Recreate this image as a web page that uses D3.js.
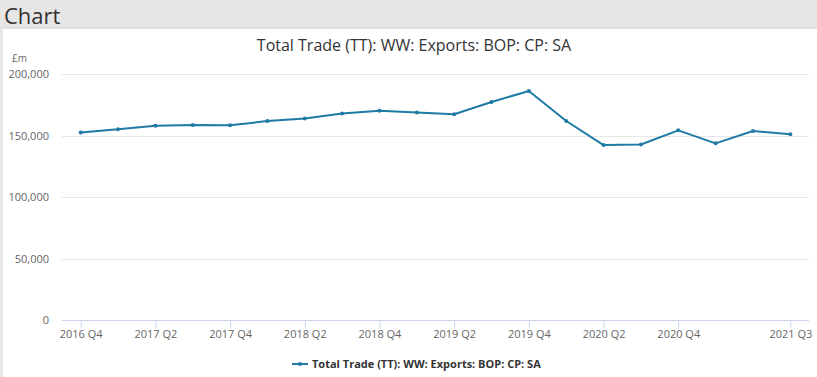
<!DOCTYPE html>
<html>
<head>
<meta charset="utf-8">
<script src="https://cdn.jsdelivr.net/npm/d3@7"></script>
<style>
  html, body { margin: 0; padding: 0; background: #e6e6e6; }
  body { width: 817px; height: 377px; overflow: hidden; font-family: "Open Sans", sans-serif; }
</style>
</head>
<body>
<div id="chart"></div>
<script>
// données
const quarters = [
  "2016 Q4", "2017 Q1", "2017 Q2", "2017 Q3", "2017 Q4",
  "2018 Q1", "2018 Q2", "2018 Q3", "2018 Q4",
  "2019 Q1", "2019 Q2", "2019 Q3", "2019 Q4",
  "2020 Q1", "2020 Q2", "2020 Q3", "2020 Q4",
  "2021 Q1", "2021 Q2", "2021 Q3"
];
const exportsValues = [
  152500, 155000, 158000, 158500, 158300,
  161700, 163800, 167800, 170200,
  168600, 167300, 177200, 186200,
  161800, 142200, 142700, 154200,
  143600, 153600, 151100
];
const xTickLabels = ["2016 Q4", "2017 Q2", "2017 Q4", "2018 Q2", "2018 Q4", "2019 Q2", "2019 Q4", "2020 Q2", "2020 Q4", "2021 Q3"];
const yTicks = [0, 50000, 100000, 150000, 200000];

const W = 817, H = 377;
const PLOT = { left: 62, right: 809, top: 74, bottom: 320 };
const LINE_COLOR = "#1f7ba5";
const TITLE = "Total Trade (TT): WW: Exports: BOP: CP: SA";

const svg = d3.select("#chart").append("svg")
    .attr("width", W)
    .attr("height", H)
    .style("display", "block");

// fond : bandeau gris + panneau blanc
svg.append("rect").attr("x", 0).attr("y", 0).attr("width", W).attr("height", H).attr("fill", "#e6e6e6");
svg.append("rect").attr("x", 3).attr("y", 29).attr("width", W - 3).attr("height", H - 29).attr("fill", "#fff");
svg.append("line").attr("x1", 0).attr("x2", W).attr("y1", 27.5).attr("y2", 27.5).attr("stroke", "#d9d9d9");

svg.append("text")
    .attr("x", 4)
    .attr("y", 24)
    .attr("font-size", 22)
    .attr("fill", "#333")
    .text("Chart");

svg.append("text")
    .attr("x", 414)
    .attr("y", 51)
    .attr("text-anchor", "middle")
    .attr("font-size", 16)
    .attr("fill", "#333")
    .text(TITLE);

// échelles
const x = d3.scalePoint()
    .domain(quarters)
    .range([PLOT.left, PLOT.right])
    .padding(0.5);

const y = d3.scaleLinear()
    .domain([0, 200000])
    .range([PLOT.bottom, PLOT.top]);

// grille horizontale
svg.append("g")
    .selectAll("line")
    .data(yTicks.filter(d => d > 0))
    .join("line")
    .attr("x1", PLOT.left)
    .attr("x2", PLOT.right)
    .attr("y1", d => Math.round(y(d)) + 0.5)
    .attr("y2", d => Math.round(y(d)) + 0.5)
    .attr("stroke", "#e6e6e6");

// axe Y
const yAxis = svg.append("g")
    .attr("transform", `translate(${PLOT.left - 13},0)`)
    .call(d3.axisLeft(y).tickValues(yTicks).tickSize(0).tickPadding(0).tickFormat(d3.format(",")));
yAxis.select(".domain").remove();
yAxis.selectAll("text")
    .attr("font-family", "Open Sans, sans-serif")
    .attr("font-size", 11)
    .attr("fill", "#666");

svg.append("text")
    .attr("x", 12)
    .attr("y", 62)
    .attr("font-size", 10)
    .attr("fill", "#666")
    .text("£m");

// axe X
const xAxis = svg.append("g")
    .attr("transform", `translate(0,${PLOT.bottom + 0.5})`)
    .call(d3.axisBottom(x).tickValues(xTickLabels).tickSize(8).tickPadding(2).tickSizeOuter(0));
xAxis.select(".domain")
    .attr("d", `M${PLOT.left},0H${PLOT.right}`)
    .attr("stroke", "#ccd6eb");
xAxis.selectAll(".tick line")
    .attr("stroke", "#ccd6eb")
    .attr("y1", 0);
xAxis.selectAll("text")
    .attr("font-family", "Open Sans, sans-serif")
    .attr("font-size", 11)
    .attr("fill", "#666");

// série
const line = d3.line()
    .x((d, i) => x(quarters[i]))
    .y(d => y(d));

svg.append("path")
    .datum(exportsValues)
    .attr("fill", "none")
    .attr("stroke", LINE_COLOR)
    .attr("stroke-width", 2)
    .attr("stroke-linejoin", "round")
    .attr("d", line);

svg.append("g")
    .selectAll("circle")
    .data(exportsValues)
    .join("circle")
    .attr("cx", (d, i) => x(quarters[i]))
    .attr("cy", d => y(d))
    .attr("r", 2)
    .attr("fill", LINE_COLOR);

// légende
const legend = svg.append("g").attr("transform", "translate(292,364)");
legend.append("line")
    .attr("x1", 0).attr("x2", 16)
    .attr("y1", 0).attr("y2", 0)
    .attr("stroke", LINE_COLOR)
    .attr("stroke-width", 2);
legend.append("circle").attr("cx", 8).attr("cy", 0).attr("r", 2).attr("fill", LINE_COLOR);
legend.append("text")
    .attr("x", 20)
    .attr("y", 4)
    .attr("font-size", 11)
    .attr("font-weight", "bold")
    .attr("fill", "#333")
    .text(TITLE);
</script>
</body>
</html>
